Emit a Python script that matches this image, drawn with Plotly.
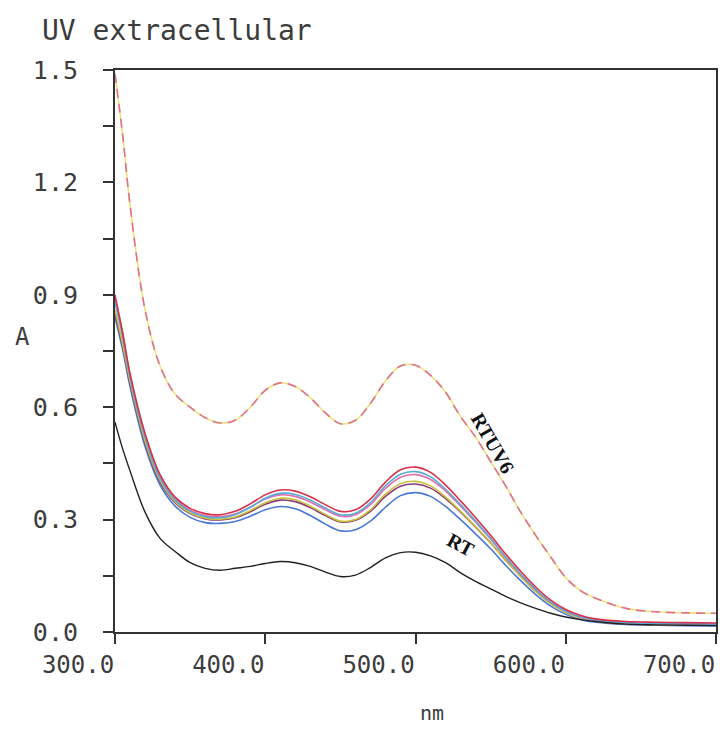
import plotly.graph_objects as go

# wavelength grid (nm)
wl = [300,305,310,320,330,340,350,360,370,380,390,400,410,420,430,440,450,460,470,480,490,500,510,520,530,540,550,560,570,580,590,600,610,620,640,660,680,700]

rtuv6 = [1.49,1.33,1.14,0.86,0.71,0.635,0.600,0.572,0.558,0.565,0.600,0.645,0.665,0.655,0.625,0.585,0.556,0.565,0.610,0.670,0.710,0.712,0.685,0.640,0.575,0.520,0.455,0.390,0.320,0.258,0.200,0.145,0.110,0.090,0.063,0.054,0.051,0.050]

rt = [0.56,0.49,0.43,0.32,0.25,0.215,0.185,0.170,0.165,0.170,0.175,0.183,0.188,0.185,0.175,0.160,0.148,0.152,0.172,0.198,0.212,0.213,0.203,0.185,0.158,0.135,0.115,0.095,0.078,0.063,0.050,0.040,0.033,0.028,0.021,0.019,0.018,0.017]

c1 = [0.90,0.80,0.69,0.53,0.42,0.36,0.33,0.316,0.313,0.322,0.342,0.366,0.379,0.376,0.361,0.340,0.322,0.326,0.355,0.400,0.433,0.440,0.426,0.392,0.350,0.305,0.258,0.208,0.162,0.120,0.085,0.060,0.044,0.035,0.028,0.026,0.025,0.024]
c2 = [0.88,0.79,0.68,0.52,0.41,0.352,0.322,0.308,0.305,0.313,0.333,0.357,0.370,0.367,0.352,0.331,0.313,0.317,0.345,0.390,0.421,0.428,0.414,0.381,0.340,0.296,0.250,0.200,0.155,0.114,0.080,0.056,0.040,0.032,0.025,0.023,0.022,0.021]
c3 = [0.89,0.80,0.685,0.525,0.415,0.355,0.325,0.311,0.308,0.315,0.333,0.355,0.366,0.362,0.347,0.326,0.309,0.313,0.340,0.383,0.413,0.420,0.407,0.376,0.336,0.293,0.248,0.199,0.154,0.113,0.079,0.055,0.039,0.031,0.024,0.022,0.021,0.020]
c4 = [0.86,0.77,0.67,0.51,0.405,0.348,0.318,0.304,0.301,0.307,0.324,0.345,0.357,0.353,0.336,0.314,0.296,0.300,0.326,0.368,0.396,0.402,0.390,0.360,0.322,0.281,0.238,0.191,0.148,0.108,0.075,0.052,0.037,0.029,0.022,0.020,0.019,0.018]
c5 = [0.85,0.765,0.665,0.505,0.40,0.345,0.316,0.302,0.299,0.305,0.321,0.341,0.352,0.348,0.332,0.311,0.294,0.298,0.322,0.362,0.389,0.395,0.384,0.356,0.320,0.280,0.238,0.192,0.149,0.110,0.077,0.054,0.038,0.030,0.024,0.022,0.021,0.020]
c6 = [0.84,0.755,0.655,0.495,0.392,0.336,0.306,0.292,0.290,0.295,0.309,0.326,0.335,0.329,0.311,0.288,0.270,0.273,0.296,0.333,0.364,0.372,0.362,0.335,0.300,0.262,0.222,0.178,0.137,0.100,0.069,0.047,0.033,0.026,0.020,0.018,0.017,0.016]

x_ticks = [300, 400, 500, 600, 700]
x_tick_labels = ["300.0", "400.0", "500.0", "600.0", "700.0"]
y_ticks = [0.0, 0.15, 0.3, 0.45, 0.6, 0.75, 0.9, 1.05, 1.2, 1.35, 1.5]
y_tick_labels = ["0.0", "", "0.3", "", "0.6", "", "0.9", "", "1.2", "", "1.5"]

fig = go.Figure()

cluster = [(c6, "#4a78d8"), (c5, "#8a3a78"), (c4, "#c8c038"), (c3, "#e070a8"), (c2, "#5aa8d8"), (c1, "#d83048")]
for ys, col in cluster:
    fig.add_trace(go.Scatter(x=wl, y=ys, mode="lines", line=dict(color=col, width=1.6, shape="spline"), showlegend=False))

fig.add_trace(go.Scatter(x=wl, y=rtuv6, mode="lines", line=dict(color="#f0e27a", width=1.6, shape="spline"), showlegend=False))
fig.add_trace(go.Scatter(x=wl, y=rtuv6, mode="lines", line=dict(color="#e0708c", width=1.6, shape="spline", dash="9px,6px"), showlegend=False))
fig.add_trace(go.Scatter(x=wl, y=rt, mode="lines", line=dict(color="#222222", width=1.4, shape="spline"), showlegend=False))

mono = "DejaVu Sans Mono"
txtcol = "#3c3c3c"

fig.update_layout(
    width=720, height=731,
    margin=dict(l=115, r=4, t=70, b=99),
    paper_bgcolor="white", plot_bgcolor="white",
    font=dict(family=mono, color=txtcol),
)

fig.update_xaxes(range=[300, 700], tickvals=x_ticks, ticktext=x_tick_labels, ticks="outside", ticklen=10,
                 tickcolor="#333", tickwidth=1.5, ticklabelshift=-37, ticklabeloverflow="allow",
                 automargin=False,
                 tickfont=dict(family=mono, size=24, color=txtcol),
                 showline=True, linecolor="#333", linewidth=2, mirror=True, showgrid=False, zeroline=False)
fig.update_yaxes(range=[0, 1.5], tickvals=y_ticks, ticktext=y_tick_labels, ticks="outside", ticklen=10,
                 tickcolor="#333", tickwidth=1.5, ticklabelstandoff=20, ticklabeloverflow="allow",
                 automargin=False,
                 tickfont=dict(family=mono, size=25, color=txtcol),
                 showline=True, linecolor="#333", linewidth=2, mirror=True, showgrid=False, zeroline=False)

fig.add_annotation(text="UV extracellular", xref="paper", yref="paper", x=(40-115)/601, y=(632-30)/562,
                   showarrow=False, font=dict(family=mono, size=28, color=txtcol), xanchor="left", yanchor="middle")
fig.add_annotation(text="A", xref="paper", yref="paper", x=(22-115)/601, y=(632-337)/562,
                   showarrow=False, font=dict(family=mono, size=24, color=txtcol), xanchor="center", yanchor="middle")
fig.add_annotation(text="nm", xref="paper", yref="paper", x=(432-115)/601, y=-(713-632)/562,
                   showarrow=False, font=dict(family=mono, size=20, color=txtcol), xanchor="center", yanchor="middle")
fig.add_annotation(text="<b>RTUV6</b>", xref="x", yref="y", x=551.5, y=0.505, textangle=60,
                   showarrow=False, font=dict(family="Liberation Serif", size=20, color="#111"))
fig.add_annotation(text="<b>RT</b>", xref="x", yref="y", x=530.5, y=0.232, textangle=28,
                   showarrow=False, font=dict(family="Liberation Serif", size=20, color="#111"))

fig.write_html("out.html", config={"displayModeBar": False},
               post_script="document.body.style.margin='0';document.body.style.padding='0';")
